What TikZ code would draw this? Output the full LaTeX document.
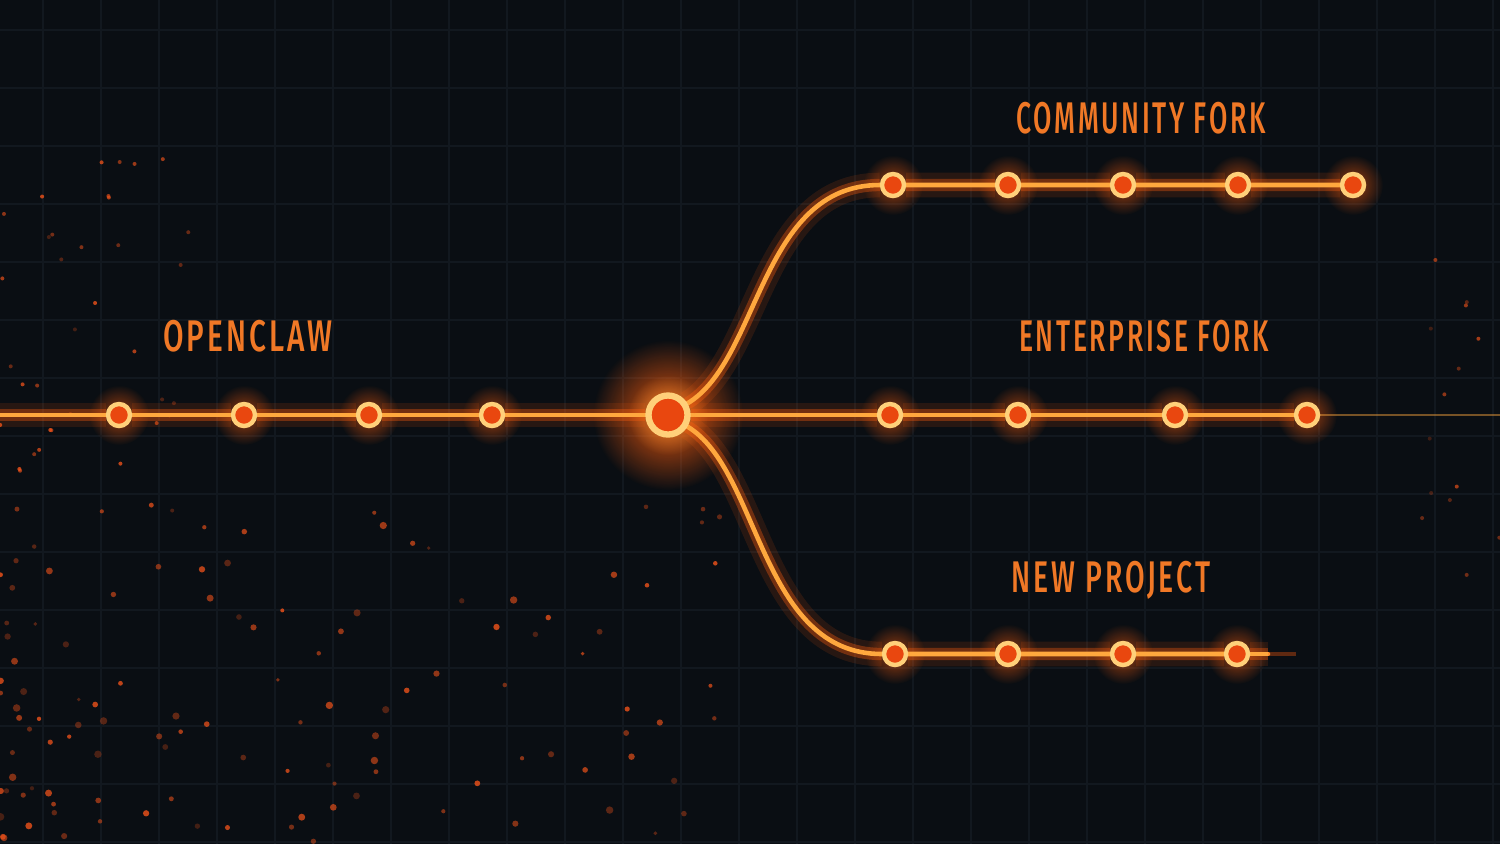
\documentclass[tikz,border=0pt]{standalone}
\usepackage{fontspec}
\usepackage{xcolor}
\usepackage{tikz}
\usetikzlibrary{backgrounds, fadings}
\newfontfamily\forkfont[LetterSpace=10]{Fira Sans Medium}
\definecolor{bgdark}{HTML}{0A0E13}
\definecolor{gridline}{HTML}{12181F}
\definecolor{glow}{HTML}{FF5E0E}
\definecolor{wire}{HTML}{FFA83E}
\definecolor{ring}{HTML}{FFD07A}
\definecolor{core}{HTML}{E9470F}
\definecolor{label}{HTML}{F07826}
\definecolor{spark}{HTML}{E8501A}
\tikzfading[name=halofade, inner color=transparent!0, outer color=transparent!100]

\begin{document}
\begin{tikzpicture}[x=0.01cm, y=-0.01cm]
      \tikzstyle{Dot} = [circle, draw=ring, fill=core, line width=1.25pt, minimum size=0.22cm, inner sep=0pt]
      \tikzstyle{Hub} = [Dot, line width=1.8pt, minimum size=0.39cm]
      \tikzstyle{Label} = [font=\forkfont\fontsize{12.6}{14}\selectfont, text=label, xscale=0.6]
      \tikzstyle{Wire} = [draw=wire, line width=1.3pt, line cap=round,
        preaction={draw=glow, line width=7pt, opacity=0.12},
        preaction={draw=glow, line width=3.5pt, opacity=0.35}]
      \tikzstyle{Grid} = [draw=gridline, line width=0.5pt]
      \useasboundingbox (0,0) rectangle (1500,844);
      % main line
      \node[Dot] (o1) at (119,415) {};
      \node[Dot] (o2) at (244,415) {};
      \node[Dot] (o3) at (369,415) {};
      \node[Dot] (o4) at (492,415) {};
      \node[Hub] (hub) at (668,415) {};
      % community fork
      \node[Dot] (c1) at (893,185) {};
      \node[Dot] (c2) at (1008,185) {};
      \node[Dot] (c3) at (1123,185) {};
      \node[Dot] (c4) at (1238,185) {};
      \node[Dot] (c5) at (1353,185) {};
      % enterprise fork
      \node[Dot] (e1) at (890,415) {};
      \node[Dot] (e2) at (1018,415) {};
      \node[Dot] (e3) at (1175,415) {};
      \node[Dot] (e4) at (1307,415) {};
      % new project
      \node[Dot] (p1) at (895,654) {};
      \node[Dot] (p2) at (1008,654) {};
      \node[Dot] (p3) at (1123,654) {};
      \node[Dot] (p4) at (1237,654) {};
      \coordinate (lstart) at (0,415);
      \coordinate (eend) at (1500,415);
      \coordinate (pend) at (1268,654);
      \coordinate (ptail) at (1296,654);
      % labels
      \node[Label, xscale=1.12] (openclaw) at (248,336) {OPENCLAW};
      \node[Label] (community) at (1141,118) {COMMUNITY FORK};
      \node[Label] (enterprise) at (1144,336) {ENTERPRISE FORK};
      \node[Label, xscale=1.07] (newproject) at (1111,580) {NEW PROJECT};
      \begin{scope}[on background layer]
        \fill[bgdark] (0,0) rectangle (1500,844);
        \foreach \gx in {43,101,...,1500} \draw[Grid] (\gx,0) -- (\gx,844);
        \foreach \gy in {30,88,...,844} \draw[Grid] (0,\gy) -- (1500,\gy);
        % sparks
        \pgfmathsetseed{42}
        \foreach \i in {1,...,120} {
          \pgfmathsetmacro{\sx}{720*rnd^1.4}
          \pgfmathsetmacro{\sy}{844-340*rnd^1.2}
          \pgfmathsetmacro{\so}{0.25+0.6*rnd}
          \pgfmathsetmacro{\sr}{0.018+0.02*rnd}
          \fill[spark, opacity=\so] (\sx,\sy) circle (\sr cm);
        }
        \foreach \i in {1,...,35} {
          \pgfmathsetmacro{\sx}{220*rnd^1.5}
          \pgfmathsetmacro{\sy}{150+330*rnd}
          \pgfmathsetmacro{\so}{0.25+0.6*rnd}
          \fill[spark, opacity=\so] (\sx,\sy) circle (0.02cm);
        }
        \foreach \i in {1,...,14} {
          \pgfmathsetmacro{\sx}{1420+80*rnd}
          \pgfmathsetmacro{\sy}{250+350*rnd}
          \pgfmathsetmacro{\so}{0.2+0.5*rnd}
          \fill[spark, opacity=\so] (\sx,\sy) circle (0.02cm);
        }
        % glows
        \fill[glow, opacity=0.9, path fading=halofade] (hub) circle (0.75cm);
        \fill[wire, opacity=0.6, path fading=halofade] (hub) circle (0.4cm);
        \foreach \n in {o1,o2,o3,o4,c1,c2,c3,c4,c5,e1,e2,e3,e4,p1,p2,p3,p4}
          \fill[glow, opacity=0.6, path fading=halofade] (\n) circle (0.3cm);
        % wires
        \draw[wire, opacity=0.45, line width=0.8pt] (e4) -- (eend);
        \draw[Wire] (lstart) -- (o1) -- (o2) -- (o3) -- (o4) -- (hub);
        \draw[Wire] (hub) -- (e1) -- (e2) -- (e3) -- (e4);
        \draw[Wire] (hub) .. controls (760,360) and (760,185) .. (c1) -- (c2) -- (c3) -- (c4) -- (c5);
        \draw[Wire] (hub) .. controls (760,470) and (760,654) .. (p1) -- (p2) -- (p3) -- (p4);
        \draw[Wire] (p4) -- (pend);
        \draw[glow, opacity=0.35, line width=1pt] (pend) -- (ptail);
      \end{scope}
    \end{tikzpicture}
\end{document}
